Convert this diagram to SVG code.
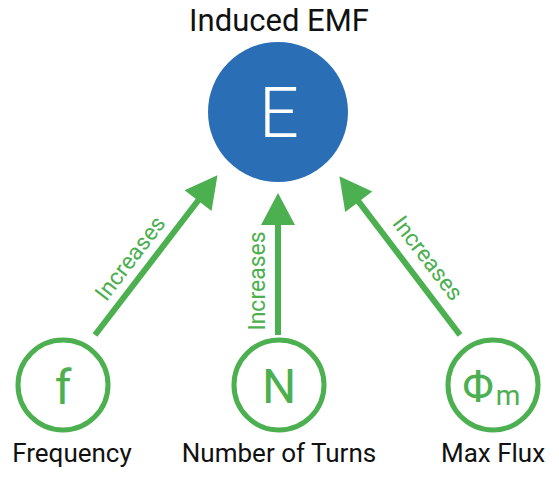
<svg xmlns="http://www.w3.org/2000/svg" width="559" height="480" viewBox="0 0 559 480">
<defs>
<style>
.lbl{font-family:Roboto,"Liberation Sans",sans-serif;font-size:26px;fill:#111;text-anchor:middle}
.inc{font-family:Roboto,"Liberation Sans",sans-serif;font-size:23px;fill:#4caf50;text-anchor:middle}
.sym{font-family:Roboto,"Liberation Sans",sans-serif;font-size:48px;fill:#4caf50;text-anchor:middle}
.ring{fill:#fff;stroke:#4caf50;stroke-width:5}
.arr{stroke:#4caf50;stroke-width:6;fill:none;marker-end:url(#ah)}
</style>
<marker id="ah" markerUnits="userSpaceOnUse" markerWidth="34" markerHeight="34" viewBox="0 0 31 33" refX="2" refY="16.5" orient="auto">
<path d="M0,0 L31,16.5 L0,33 z" fill="#4caf50"/>
</marker>
</defs>
<rect width="559" height="480" fill="#fff"/>
<g id="E">
<text x="279" y="31" style="font-family:Roboto,'Liberation Sans',sans-serif;font-size:31px;fill:#111;text-anchor:middle">Induced EMF</text>
<circle cx="278" cy="112" r="70" fill="#2a6eb5"/>
<text x="279" y="137" style="font-family:Roboto,'Liberation Sans',sans-serif;font-size:70px;font-weight:300;fill:#fff;text-anchor:middle">E</text>
</g>
<g id="connectors">
<line class="arr" x1="95" y1="335" x2="199.3" y2="199"/>
<line class="arr" x1="278" y1="335" x2="278" y2="223"/>
<line class="arr" x1="460" y1="335" x2="357.5" y2="200.1"/>
<text class="inc" transform="translate(130,258) rotate(-52.5)" y="8">Increases</text>
<text class="inc" transform="translate(257,281) rotate(-90)" y="8">Increases</text>
<text class="inc" transform="translate(428,258) rotate(52.5)" y="8">Increases</text>
</g>
<g id="f">
<circle class="ring" cx="63" cy="385" r="45"/>
<text class="sym" x="63" y="404">f</text>
<text class="lbl" x="72" y="462">Frequency</text>
</g>
<g id="N">
<circle class="ring" cx="279" cy="385" r="45"/>
<text class="sym" x="279" y="403">N</text>
<text class="lbl" x="279" y="462">Number of Turns</text>
</g>
<g id="phi">
<circle class="ring" cx="493" cy="385" r="45"/>
<text class="sym" x="478" y="402" style="font-size:44px">Φ</text>
<text class="sym" x="508" y="405" style="font-size:28px">m</text>
<text class="lbl" x="493" y="462">Max Flux</text>
</g>
</svg>
